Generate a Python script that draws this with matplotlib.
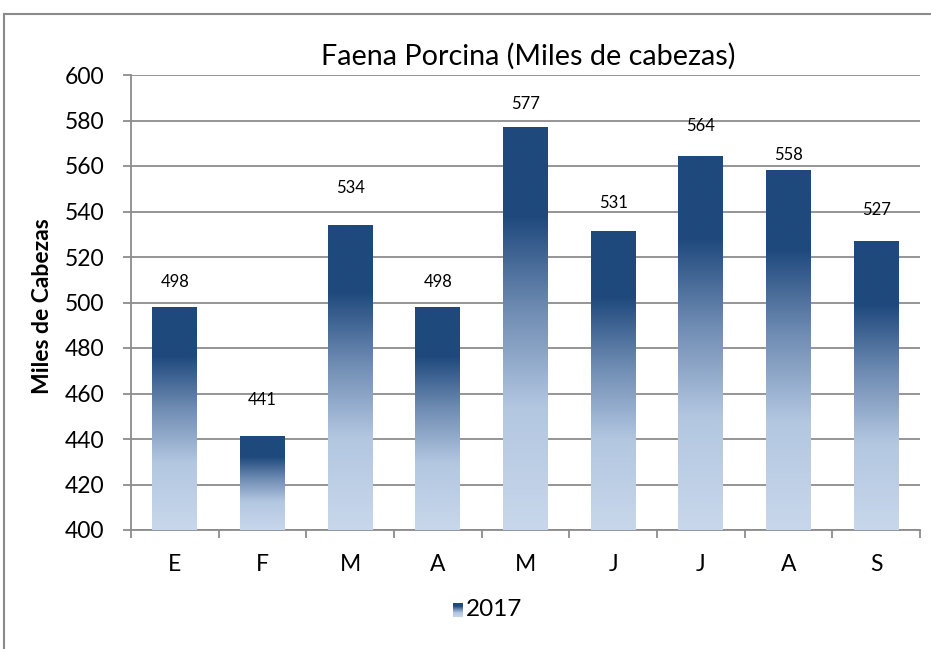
import numpy as np
import matplotlib
matplotlib.use("Agg")
import matplotlib.pyplot as plt
from matplotlib.colors import LinearSegmentedColormap
from matplotlib.lines import Line2D

plt.rcParams['font.family'] = ['Lato', 'DejaVu Sans']

categories = ["E", "F", "M", "A", "M", "J", "J", "A", "S"]
values = [498, 441, 534, 498, 577, 531, 564, 558, 527]
series_name = "2017"
title = "Faena Porcina (Miles de cabezas)"
ylabel = "Miles de Cabezas"

# style: vertical offset (pixels) of each data label above its bar
label_offsets_px = [25, 37, 37, 25, 23, 29, 31, 16, 31]

W, H = 931, 649
fig = plt.figure(figsize=(W / 100, H / 100), dpi=100)

# outer chart border (partially visible)
fig.add_artist(Line2D([4 / W, 4 / W], [0, 1 - 14 / H], color="#8a8a8a", lw=1.5,
                      transform=fig.transFigure))
fig.add_artist(Line2D([4 / W, 1], [1 - 14 / H, 1 - 14 / H], color="#8a8a8a", lw=1.5,
                      transform=fig.transFigure))

left, right, top, bottom = 131, 920, 75, 530
ax = fig.add_axes([left / W, 1 - bottom / H, (right - left) / W, (bottom - top) / H])

cmap = LinearSegmentedColormap.from_list(
    "grad",
    [(0.0, "#c8d7eb"), (0.30, "#b3c7e1"), (0.55, "#6e8bb2"), (0.78, "#1f497d"), (1.0, "#1f497d")],
)
grad = np.linspace(0, 1, 256).reshape(-1, 1)

ymin, ymax = 400, 600
x = np.arange(len(values))
width = 0.51
bars = ax.bar(x, np.array(values) - ymin, bottom=ymin, width=width, color="none", zorder=3)
for b in bars:
    x0 = b.get_x()
    x1 = x0 + b.get_width()
    y0 = b.get_y()
    y1 = y0 + b.get_height()
    ax.imshow(grad, cmap=cmap, origin="lower", extent=[x0, x1, y0, y1],
              aspect="auto", zorder=3, interpolation="bicubic")

for xi, v, off in zip(x, values, label_offsets_px):
    ax.annotate(str(v), (xi, v), xytext=(0, off * 72 / 100), textcoords="offset points",
                ha="center", va="center", fontsize=12, color="#000000", zorder=5)

ax.set_xlim(-0.5, len(values) - 0.5)
ax.set_ylim(ymin, ymax)
ax.set_yticks(np.arange(400, 601, 20))
ax.yaxis.grid(True, color="#8c8c8c", lw=1.3, zorder=0)
ax.set_axisbelow(True)

ax.set_xticks(x)
ax.set_xticklabels(categories, fontsize=16.5)
ax.set_xticks(np.arange(-0.5, len(values), 1), minor=True)
ax.tick_params(axis="x", which="major", length=0, pad=17)
ax.tick_params(axis="x", which="minor", length=6, width=1.3, color="#8c8c8c", direction="out")
ax.tick_params(axis="y", length=6, width=1.3, color="#8c8c8c", direction="out", labelsize=16.5, pad=13)

for s in ["top", "right"]:
    ax.spines[s].set_visible(False)
for s in ["left", "bottom"]:
    ax.spines[s].set_color("#8c8c8c")
    ax.spines[s].set_linewidth(1.3)

ax.set_ylabel(ylabel, fontsize=16.5, fontweight="bold")
ax.yaxis.label.set_va("center")
ax.yaxis.set_label_coords((43 - left) / (right - left), (bottom - 306.5) / (bottom - top))
fig.text(528 / W, 1 - 56 / H, title, ha="center", va="center", fontsize=20.7)

# legend with gradient swatch
lax = fig.add_axes([453 / W, 1 - 617 / H, 10 / W, 14 / H])
lax.imshow(grad, cmap=cmap, origin="lower", aspect="auto", extent=[0, 1, 0, 1])
lax.set_axis_off()
fig.text(466 / W, 1 - 610 / H, series_name, ha="left", va="center", fontsize=17.5)

fig.savefig("out.png", dpi=100)
